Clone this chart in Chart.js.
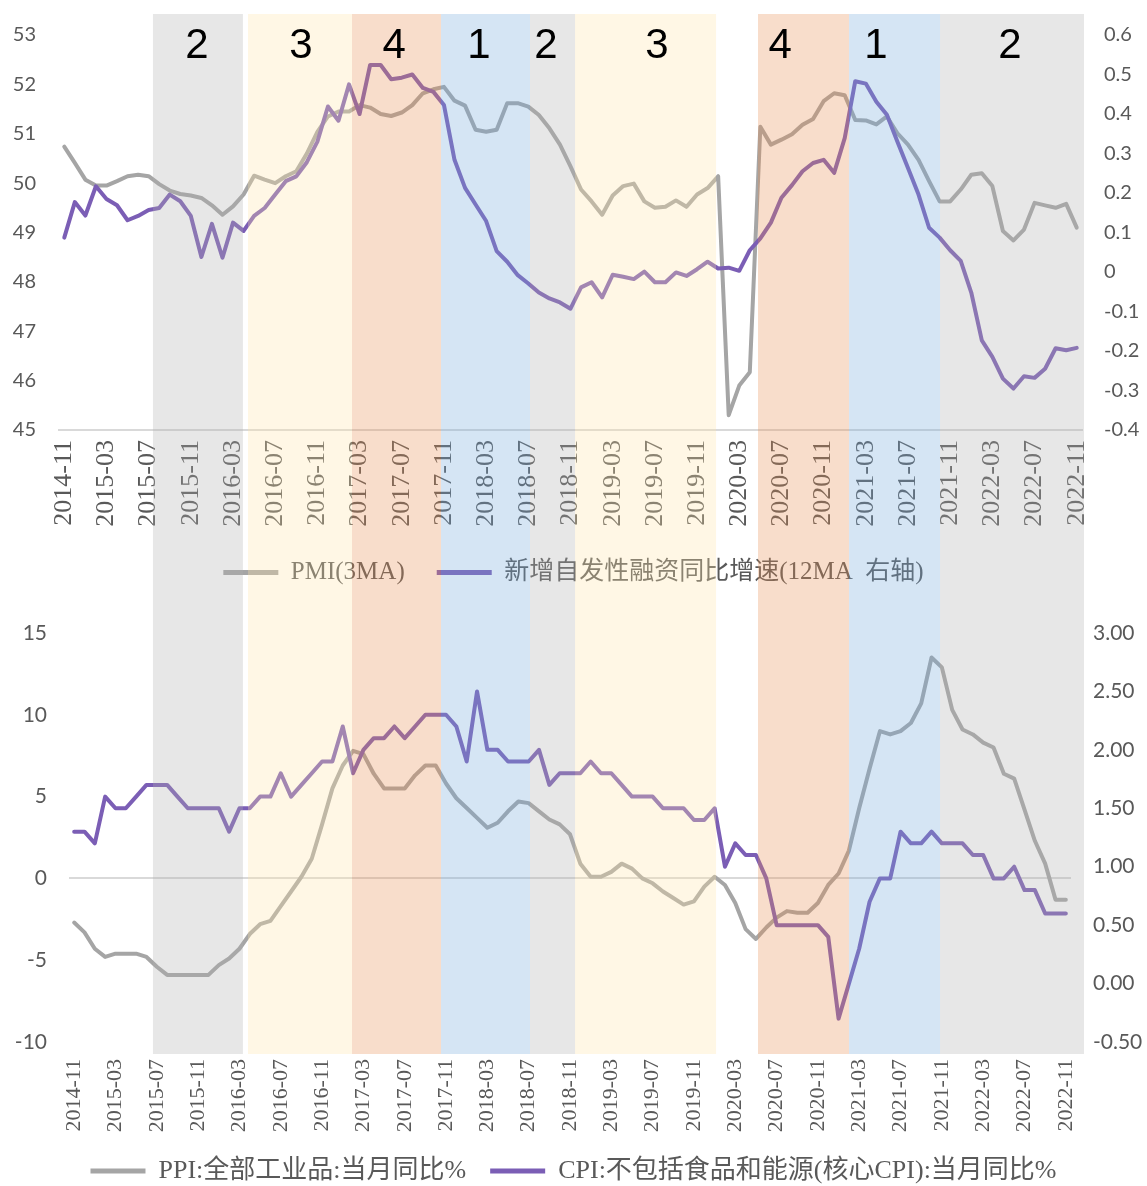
<!DOCTYPE html>
<html>
<head>
<meta charset="utf-8">
<script src="https://cdn.jsdelivr.net/npm/chart.js@4.4.1/dist/chart.umd.min.js"></script>
<style>
  html, body { margin: 0; padding: 0; background: #fff; overflow: hidden; }
  canvas { display: block; }
</style>
</head>
<body>
<canvas id="chartTop" width="1147" height="595"></canvas>
<canvas id="chartBottom" width="1147" height="599"></canvas>
<script>
// 月份 2014-11 ~ 2022-11
const months = [];
for (let k = 0; k < 97; k++) {
  const t = 2014 * 12 + 10 + k;
  months.push(Math.floor(t / 12) + '-' + String(t % 12 + 1).padStart(2, '0'));
}

// 上图
const pmi3ma = [
  50.74, 50.41, 50.07, 49.95, 49.95, 50.04, 50.14, 50.17, 50.14, 49.98,
  49.85, 49.78, 49.75, 49.7, 49.55, 49.36, 49.53, 49.77, 50.15, 50.07,
  50.0, 50.14, 50.24, 50.6, 51.04, 51.35, 51.45, 51.45, 51.58, 51.53,
  51.4, 51.36, 51.43, 51.58, 51.82, 51.9, 51.95, 51.67, 51.57, 51.08,
  51.04, 51.08, 51.62, 51.62, 51.55, 51.38, 51.11, 50.78, 50.34, 49.87,
  49.63, 49.36, 49.75, 49.94, 49.99, 49.63, 49.5, 49.52, 49.65, 49.52,
  49.77, 49.9, 50.14, 45.3, 45.9, 46.17, 51.14, 50.78, 50.88, 50.99,
  51.18, 51.3, 51.66, 51.82, 51.78, 51.28, 51.27, 51.19, 51.35, 51.01,
  50.78, 50.47, 50.04, 49.63, 49.63, 49.87, 50.17, 50.2, 49.94, 49.03,
  48.84, 49.06, 49.6, 49.55, 49.5, 49.58, 49.1
];
const financing = [
  0.087, 0.177, 0.143, 0.217, 0.185, 0.169, 0.131, 0.142, 0.157, 0.162,
  0.196, 0.179, 0.142, 0.038, 0.122, 0.036, 0.125, 0.104, 0.142, 0.162,
  0.196, 0.23, 0.242, 0.278, 0.33, 0.419, 0.383, 0.475, 0.4, 0.524,
  0.524, 0.488, 0.492, 0.5, 0.466, 0.456, 0.423, 0.284, 0.213, 0.171,
  0.129, 0.053, 0.026, -0.008, -0.029, -0.052, -0.067, -0.077, -0.093, -0.039,
  -0.026, -0.064, -0.007, -0.012, -0.018, 0.001, -0.026, -0.026, -0.001, -0.01,
  0.007, 0.026, 0.009, 0.011, 0.003, 0.055, 0.085, 0.125, 0.188, 0.22,
  0.255, 0.276, 0.284, 0.251, 0.339, 0.483, 0.477, 0.431, 0.398, 0.33,
  0.263, 0.196, 0.112, 0.087, 0.055, 0.028, -0.052, -0.173, -0.215, -0.27,
  -0.295, -0.264, -0.268, -0.245, -0.193, -0.198, -0.192
];

// 下图
const ppi = [
  -2.7, -3.3, -4.3, -4.8, -4.6, -4.6, -4.6, -4.8, -5.4, -5.9,
  -5.9, -5.9, -5.9, -5.9, -5.3, -4.9, -4.3, -3.4, -2.8, -2.6,
  -1.7, -0.8, 0.1, 1.2, 3.3, 5.5, 6.9, 7.8, 7.6, 6.4,
  5.5, 5.5, 5.5, 6.3, 6.9, 6.9, 5.8, 4.9, 4.3, 3.7,
  3.1, 3.4, 4.1, 4.7, 4.6, 4.1, 3.6, 3.3, 2.7, 0.9,
  0.1, 0.1, 0.4, 0.9, 0.6, 0.0, -0.3, -0.8, -1.2, -1.6,
  -1.4, -0.5, 0.1, -0.4, -1.5, -3.1, -3.7, -3.0, -2.4, -2.0,
  -2.1, -2.1, -1.5, -0.4, 0.3, 1.7, 4.3, 6.7, 9.0, 8.8,
  9.0, 9.5, 10.7, 13.5, 12.9, 10.3, 9.1, 8.8, 8.3, 8.0,
  6.4, 6.1, 4.2, 2.3, 0.9, -1.3, -1.3
];
const coreCpi = [
  1.3, 1.3, 1.2, 1.6, 1.5, 1.5, 1.6, 1.7, 1.7, 1.7,
  1.6, 1.5, 1.5, 1.5, 1.5, 1.3, 1.5, 1.5, 1.6, 1.6,
  1.8, 1.6, 1.7, 1.8, 1.9, 1.9, 2.2, 1.8, 2.0, 2.1,
  2.1, 2.2, 2.1, 2.2, 2.3, 2.3, 2.3, 2.2, 1.9, 2.5,
  2.0, 2.0, 1.9, 1.9, 1.9, 2.0, 1.7, 1.8, 1.8, 1.8,
  1.9, 1.8, 1.8, 1.7, 1.6, 1.6, 1.6, 1.5, 1.5, 1.5,
  1.4, 1.4, 1.5, 1.0, 1.2, 1.1, 1.1, 0.9, 0.5, 0.5,
  0.5, 0.5, 0.5, 0.4, -0.3, 0.0, 0.3, 0.7, 0.9, 0.9,
  1.3, 1.2, 1.2, 1.3, 1.2, 1.2, 1.2, 1.1, 1.1, 0.9,
  0.9, 1.0, 0.8, 0.8, 0.6, 0.6, 0.6
];

// 阶段色块（以上图月份序号为单位）
const bandPhase = ['2', '3', '4', '1', '2', '3', '4', '1', '2'];
const bandFrom = [8.41, 17.42, 27.28, 35.72, 44.16, 48.43, 65.78, 74.41, 83.04];
const bandTo = [16.94, 27.28, 35.72, 44.16, 48.43, 61.8, 74.41, 83.04, 96.69];
const phaseAt = [12.58, 22.44, 31.27, 39.32, 45.68, 56.2, 67.87, 76.97, 89.67];

const bandFill = {
  '1': 'rgba(115,168,218,0.3)',
  '2': 'rgba(175,175,175,0.3)',
  '3': 'rgba(255,228,168,0.3)',
  '4': 'rgba(232,142,82,0.3)'
};

const GRAY = '#A5A5A5';
const PURPLE = '#7B5EB5';
const TEXT = '#595959';
const SERIF = "'Liberation Serif', 'Noto Sans CJK SC', serif";

let topChart;

function drawBands(ctx, xScale, top, bottom, withLabels) {
  ctx.save();
  bandPhase.forEach((p, k) => {
    const x0 = xScale.getPixelForValue(bandFrom[k]);
    const x1 = xScale.getPixelForValue(bandTo[k]);
    ctx.fillStyle = bandFill[p];
    ctx.fillRect(x0, top, x1 - x0, bottom - top);
  });
  if (withLabels) {
    ctx.fillStyle = '#000';
    ctx.font = "42px 'Liberation Sans', sans-serif";
    ctx.textAlign = 'center';
    ctx.textBaseline = 'middle';
    bandPhase.forEach((p, k) => {
      ctx.fillText(p, xScale.getPixelForValue(phaseAt[k]), 46);
    });
  }
  ctx.restore();
}

function legendItems(ch) {
  return Chart.defaults.plugins.legend.labels.generateLabels(ch)
    .sort((a, b) => a.datasetIndex - b.datasetIndex)
    .map(it => Object.assign(it, { fillStyle: it.strokeStyle, lineWidth: 0 }));
}

function lineSet(label, data, axis, color, order) {
  return {
    label: label, data: data, yAxisID: axis,
    borderColor: color, backgroundColor: color,
    borderWidth: 4, pointRadius: 0, tension: 0,
    borderJoinStyle: 'round', borderCapStyle: 'round', order: order
  };
}

function xTicks(size, padding) {
  return {
    autoSkip: false, maxRotation: 90, minRotation: 90, padding: padding,
    color: TEXT, font: { family: SERIF, size: size },
    callback: function (v, i) { return i % 4 === 0 ? this.getLabelForValue(v) : ''; }
  };
}

topChart = new Chart(document.getElementById('chartTop'), {
  type: 'line',
  data: {
    labels: months,
    datasets: [
      lineSet('PMI(3MA)', pmi3ma, 'y', GRAY, 1),
      lineSet('新增自发性融资同比增速(12MA  右轴)', financing, 'y1', PURPLE, 0)
    ]
  },
  options: {
    responsive: false,
    animation: false,
    events: [],
    layout: { padding: { top: 33, left: 0, right: 0, bottom: 0 } },
    scales: {
      x: {
        offset: true,
        grid: { display: false, drawTicks: false },
        border: { display: true, color: '#D9D9D9', width: 2 },
        ticks: xTicks(26, 10),
        afterFit: s => { s.height = 98; }
      },
      y: {
        position: 'left', min: 45, max: 53,
        grid: { display: false, drawTicks: false },
        border: { display: false },
        ticks: { stepSize: 1, padding: 23, color: TEXT, font: { family: 'Lato', size: 20 } },
        afterFit: s => { s.width = 59; }
      },
      y1: {
        position: 'right', min: -0.4, max: 0.6,
        grid: { display: false, drawTicks: false },
        border: { display: false },
        ticks: {
          stepSize: 0.1, padding: 22, color: TEXT, font: { family: 'Lato', size: 20 },
          callback: v => String(Math.round(v * 10) / 10)
        },
        afterFit: s => { s.width = 65; }
      }
    },
    plugins: {
      tooltip: { enabled: false },
      legend: {
        position: 'bottom',
        labels: {
          boxWidth: 55, boxHeight: 5, padding: 32, color: TEXT,
          font: { family: SERIF, size: 25 },
          generateLabels: legendItems
        }
      }
    }
  },
  plugins: [{
    id: 'bandsTop',
    afterDraw: ch => drawBands(ch.ctx, ch.scales.x, 14, ch.height, true)
  }]
});

new Chart(document.getElementById('chartBottom'), {
  type: 'line',
  data: {
    labels: months,
    datasets: [
      lineSet('PPI:全部工业品:当月同比%', ppi, 'y', GRAY, 1),
      lineSet('CPI:不包括食品和能源(核心CPI):当月同比%', coreCpi, 'y1', PURPLE, 0)
    ]
  },
  options: {
    responsive: false,
    animation: false,
    events: [],
    layout: { padding: { top: 38, left: 0, right: 0, bottom: 0 } },
    scales: {
      x: {
        offset: true,
        grid: { display: false, drawTicks: false },
        border: { display: false },
        ticks: xTicks(22, 17),
        afterFit: s => { s.height = 92; }
      },
      y: {
        position: 'left', min: -10, max: 15,
        grid: {
          drawTicks: false, lineWidth: 2,
          color: c => (c.tick && c.tick.value === 0 ? '#D9D9D9' : 'rgba(0,0,0,0)')
        },
        border: { display: false },
        ticks: { stepSize: 5, padding: 22, color: TEXT, font: { family: 'Lato', size: 21 } },
        afterFit: s => { s.width = 69; }
      },
      y1: {
        position: 'right', min: -0.5, max: 3,
        grid: { display: false, drawTicks: false },
        border: { display: false },
        ticks: {
          stepSize: 0.5, padding: 22, color: TEXT, font: { family: 'Lato', size: 21 },
          callback: v => v.toFixed(2)
        },
        afterFit: s => { s.width = 76; }
      }
    },
    plugins: {
      tooltip: { enabled: false },
      legend: {
        position: 'bottom',
        labels: {
          boxWidth: 55, boxHeight: 5, padding: 24, color: TEXT,
          font: { family: SERIF, size: 26 },
          generateLabels: legendItems
        }
      }
    }
  },
  plugins: [{
    id: 'bandsBottom',
    afterDraw: ch => drawBands(ch.ctx, topChart.scales.x, 0, ch.chartArea.bottom + 12, false)
  }]
});
</script>
</body>
</html>
